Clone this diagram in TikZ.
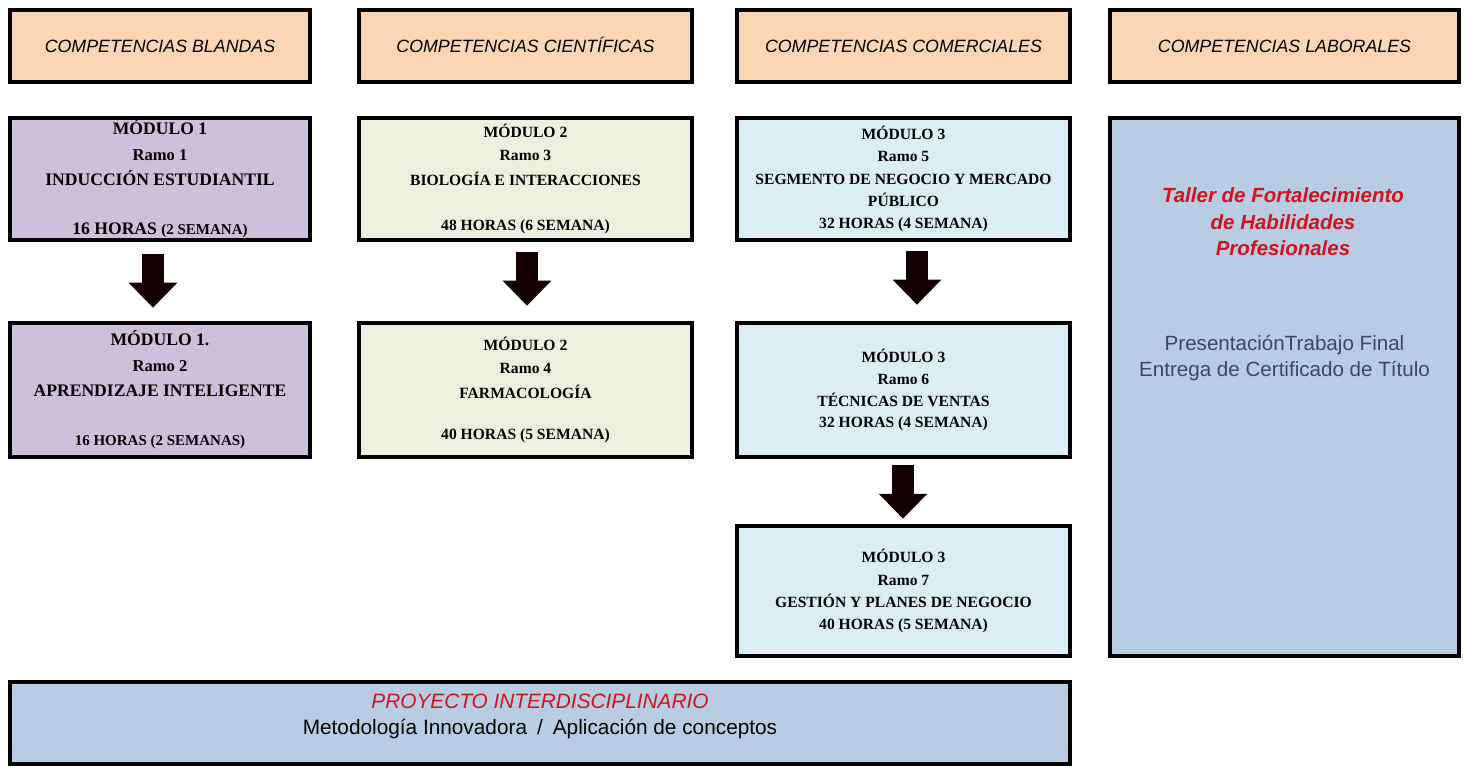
\documentclass[tikz,border=0pt]{standalone}
\usepackage{fontspec}
\setmainfont{Liberation Serif}
\newfontfamily\arialf{Liberation Sans}
\usetikzlibrary{arrows.meta,calc}
\definecolor{peach}{RGB}{252,213,180}
\definecolor{lilac}{RGB}{204,192,218}
\definecolor{pgreen}{RGB}{235,241,222}
\definecolor{pcyan}{RGB}{218,238,243}
\definecolor{pblue}{RGB}{184,204,228}
\definecolor{tred}{RGB}{208,20,30}
\definecolor{slate}{RGB}{58,72,102}
\definecolor{arrowc}{RGB}{18,0,0}
\newcommand\fLg{\fontsize{17.6}{25.5}\selectfont}
\newcommand\fMd{\fontsize{16.6}{25.5}\selectfont}
\newcommand\fSm{\fontsize{15}{25.5}\selectfont}
\newcommand\fC{\fontsize{15.6}{22.4}\selectfont}
\tikzset{
  box/.style={draw=black, line width=4.5pt, inner sep=0pt, align=center},
  hdr/.style={box, fill=peach, minimum height=72pt, text height=12.5pt, text depth=0pt,
    font=\arialf\itshape\fontsize{17.8}{20}\selectfont},
  colA/.style={box, fill=lilac, minimum width=300pt, font=\bfseries\fLg},
  colB/.style={box, fill=pgreen, minimum width=333pt, font=\bfseries\fC},
  colC/.style={box, fill=pcyan, minimum width=333pt, font=\bfseries\fC},
  bigbox/.style={box, fill=pblue},
  fatarrow/.style={draw=arrowc, line width=22pt,
    -{Triangle[width=47pt,length=25pt]}},
}
\begin{document}
\begin{tikzpicture}[x=1pt,y=-1pt]
\useasboundingbox (0,0) rectangle (1469,767);
% headers
\node[hdr, minimum width=300pt] (h1) at (160,46) {COMPETENCIAS BLANDAS};
\node[hdr, minimum width=333pt] (h2) at (525.5,46) {COMPETENCIAS CIENTÍFICAS};
\node[hdr, minimum width=333pt] (h3) at (903.5,46) {COMPETENCIAS COMERCIALES};
\node[hdr, minimum width=349pt] (h4) at (1284.5,46) {COMPETENCIAS LABORALES};
% column 1
\node[colA, minimum height=122pt] (a1) at (160,179)
  {\fLg MÓDULO 1\\ \fMd Ramo 1\\ \fLg INDUCCIÓN ESTUDIANTIL\\[23.5pt]
   \fLg 16 HORAS {\fSm(2 SEMANA)}};
\node[colA, minimum height=134pt] (a2) at (160,390)
  {\fLg MÓDULO 1.\\ \fMd Ramo 2\\ \fLg APRENDIZAJE INTELIGENTE\\[23.5pt]
   \fSm 16 HORAS (2 SEMANAS)};
% column 2
\node[colB, minimum height=122pt] (b1) at (525.5,179)
  {MÓDULO 2\\ Ramo 3\\[2.5pt] BIOLOGÍA E INTERACCIONES\\[22.5pt] 48 HORAS (6 SEMANA)};
\node[colB, minimum height=134pt] (b2) at (525.5,390)
  {MÓDULO 2\\ Ramo 4\\[2.5pt] FARMACOLOGÍA\\[18.5pt] 40 HORAS (5 SEMANA)};
% column 3
\node[colC, minimum height=122pt] (c1) at (903.5,179)
  {MÓDULO 3\\ Ramo 5\\ SEGMENTO DE NEGOCIO Y MERCADO\\ PÚBLICO\\ 32 HORAS (4 SEMANA)};
\node[colC, minimum height=134pt] (c2) at (903.5,390)
  {MÓDULO 3\\ Ramo 6\\ TÉCNICAS DE VENTAS\\[-1.5pt] 32 HORAS (4 SEMANA)};
\node[colC, minimum height=130pt] (c3) at (903.5,591)
  {MÓDULO 3\\ Ramo 7\\ GESTIÓN Y PLANES DE NEGOCIO\\[-1pt] 40 HORAS (5 SEMANA)};
% column 4
\node[bigbox, minimum width=349pt, minimum height=538pt] (d1) at (1284.5,387) {};
\node[align=center, text=tred, font=\arialf\bfseries\itshape\fontsize{20.5}{26.5}\selectfont]
  (d1t) at ($(d1.north)+(-1.5,106)$) {Taller de Fortalecimiento\\ de Habilidades\\ Profesionales};
\node[align=center, text=slate, font=\arialf\fontsize{20.6}{26}\selectfont]
  (d1s) at ($(d1.north)+(0,242)$) {PresentaciónTrabajo Final\\ Entrega de Certificado de Título};
% bottom
\node[bigbox, minimum width=1060pt, minimum height=82pt] (p1) at (540,723) {};
\node[align=center, font=\arialf\fontsize{20.8}{26}\selectfont]
  (p1t) at ($(p1.center)+(0,-6.5)$) {{\color{tred}\itshape PROYECTO INTERDISCIPLINARIO}\\ Metodología Innovadora\hspace{10pt}/\hspace{10pt}Aplicación de conceptos};
% arrows
\draw[fatarrow, shorten <=12pt, shorten >=13pt] ([xshift=-7pt]a1.south) -- ([xshift=-7pt]a2.north);
\draw[fatarrow, shorten <=10pt, shorten >=15pt] ([xshift=1.5pt]b1.south) -- ([xshift=1.5pt]b2.north);
\draw[fatarrow, shorten <=9pt, shorten >=16pt] ([xshift=13.5pt]c1.south) -- ([xshift=13.5pt]c2.north);
\draw[fatarrow, shorten <=6pt, shorten >=5pt] ([xshift=-0.5pt]c2.south) -- ([xshift=-0.5pt]c3.north);
\end{tikzpicture}
\end{document}
